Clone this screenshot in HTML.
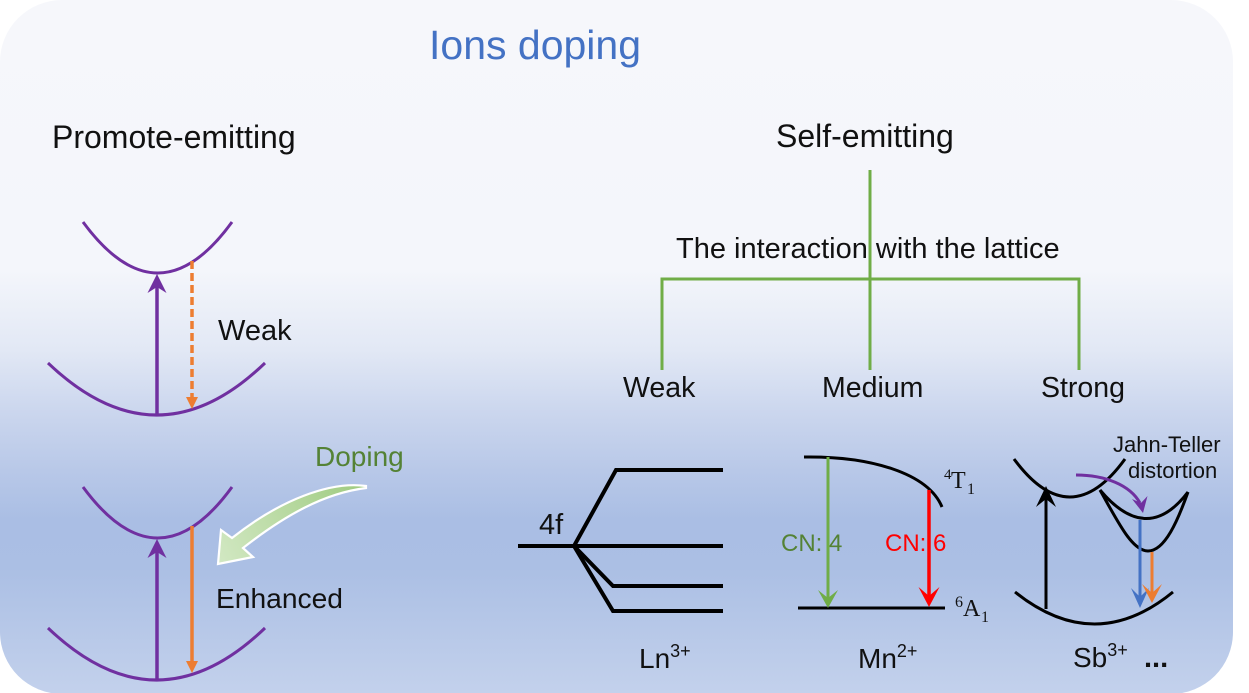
<!DOCTYPE html>
<html>
<head>
<meta charset="utf-8">
<style>
  html,body{margin:0;padding:0;background:#fff;}
  body{width:1249px;height:693px;overflow:hidden;}
  svg{display:block;}
  text{font-family:"Liberation Sans",Arial,sans-serif;}
  .serif{font-family:"Liberation Serif","Times New Roman",serif;}
</style>
</head>
<body>
<svg width="1249" height="693" viewBox="0 0 1249 693" xmlns="http://www.w3.org/2000/svg">
  <defs>
    <linearGradient id="bg" x1="0" y1="0" x2="0" y2="693" gradientUnits="userSpaceOnUse">
      <stop offset="0" stop-color="#f6f7fb"/>
      <stop offset="0.39" stop-color="#f4f6fb"/>
      <stop offset="0.505" stop-color="#e2e8f5"/>
      <stop offset="0.59" stop-color="#ccd7ee"/>
      <stop offset="0.68" stop-color="#b8c8e8"/>
      <stop offset="0.75" stop-color="#aabee4"/>
      <stop offset="0.82" stop-color="#abbfe4"/>
      <stop offset="1" stop-color="#c3d1ec"/>
    </linearGradient>
    <linearGradient id="dop" x1="366" y1="487" x2="218" y2="563" gradientUnits="userSpaceOnUse">
      <stop offset="0" stop-color="#9fcb80"/>
      <stop offset="1" stop-color="#d2e8c3"/>
    </linearGradient>
  </defs>

  <rect x="0" y="0" width="1233" height="694" rx="62" ry="62" fill="url(#bg)"/>

  <!-- Titles -->
  <text x="429" y="59" font-size="41" fill="#4472c4">Ions doping</text>
  <text x="52" y="148" font-size="32" fill="#111">Promote-emitting</text>
  <text x="776" y="147" font-size="32" fill="#111">Self-emitting</text>

  <!-- ===== Left: weak ===== -->
  <g fill="none" stroke="#7030a0" stroke-width="3">
    <path d="M83,222 Q158,324 232,222"/>
    <path d="M48,363 Q157,467 265,363"/>
    <path d="M83,487 Q158,589 232,487"/>
    <path d="M48,628 Q157,732 265,628"/>
  </g>
  <g stroke="#7030a0" stroke-width="3.5">
    <line x1="157" y1="415" x2="157" y2="285"/>
    <line x1="157" y1="680" x2="157" y2="550"/>
  </g>
  <g fill="#7030a0">
    <path d="M157,274 L166.5,293 L157,287 L147.5,293 Z"/>
    <path d="M157,539 L166.5,558 L157,552 L147.5,558 Z"/>
  </g>
  <!-- orange -->
  <line x1="192" y1="261" x2="192" y2="398" stroke="#ed7d31" stroke-width="3.5" stroke-dasharray="8,4"/>
  <path d="M186,397 L198,397 L192,409 Z" fill="#ed7d31"/>
  <line x1="192" y1="526" x2="192" y2="662" stroke="#ed7d31" stroke-width="3.5"/>
  <path d="M186,661 L198,661 L192,673 Z" fill="#ed7d31"/>

  <text x="218" y="340" font-size="29" fill="#111">Weak</text>
  <text x="216" y="608" font-size="28.2" fill="#111">Enhanced</text>
  <text x="315" y="466" font-size="28" fill="#548235">Doping</text>

  <!-- Doping arrow -->
  <path d="M366,486 C330,481 280,500 232,538 L221,530 L218,564 L253,557 L243,548 C285,515 325,493 366,488 Z"
        fill="url(#dop)" stroke="#ffffff" stroke-width="2.2" stroke-linejoin="miter"/>

  <!-- ===== Tree ===== -->
  <g stroke="#70ad47" stroke-width="3" fill="none">
    <line x1="870" y1="170" x2="870" y2="370"/>
    <polyline points="662,370 662,279 1079,279 1079,370"/>
  </g>
  <text x="676" y="258" font-size="29" fill="#111">The interaction with the lattice</text>
  <text x="623" y="397" font-size="28.5" fill="#111">Weak</text>
  <text x="822" y="397" font-size="28.5" fill="#111">Medium</text>
  <text x="1041" y="397" font-size="28.5" fill="#111">Strong</text>

  <!-- ===== Ln3+ ===== -->
  <g stroke="#000" stroke-width="4" fill="none" stroke-linejoin="miter">
    <line x1="518" y1="546" x2="723" y2="546"/>
    <polyline points="574,546 616,470 723,470"/>
    <polyline points="574,546 613,586 723,586"/>
    <polyline points="574,546 613,611 723,611"/>
  </g>
  <text x="539" y="534" font-size="29" fill="#111">4f</text>
  <text x="639" y="668" font-size="28" fill="#111">Ln<tspan font-size="18" dy="-11">3+</tspan></text>

  <!-- ===== Mn2+ ===== -->
  <g stroke="#000" stroke-width="3" fill="none">
    <path d="M804,457 C870,456 928,473 942,507"/>
    <line x1="798" y1="608" x2="945" y2="608"/>
  </g>
  <text x="781" y="551" font-size="24" fill="#548235">CN: 4</text>
  <text x="885" y="551" font-size="24" fill="#ff0000">CN: 6</text>
  <line x1="828" y1="457" x2="828" y2="598" stroke="#70ad47" stroke-width="3"/>
  <path d="M828,608 L838,590 L828,598 L818,590 Z" fill="#70ad47"/>
  <line x1="929" y1="490" x2="929" y2="596" stroke="#ff0000" stroke-width="3.5"/>
  <path d="M929,607 L939.5,587 L929,596 L918.5,587 Z" fill="#ff0000"/>
  <text class="serif" x="944" y="479" font-size="15" fill="#111">4</text>
  <text class="serif" x="951" y="488" font-size="24" fill="#111">T</text>
  <text class="serif" x="967" y="494" font-size="16" fill="#111">1</text>
  <text class="serif" x="955" y="607" font-size="16" fill="#111">6</text>
  <text class="serif" x="963" y="616" font-size="24" fill="#111">A</text>
  <text class="serif" x="981" y="622" font-size="16" fill="#111">1</text>
  <text x="858" y="668" font-size="28" fill="#111">Mn<tspan font-size="18" dy="-11">2+</tspan></text>

  <!-- ===== Sb3+ ===== -->
  <g stroke="#000" stroke-width="3" fill="none">
    <path d="M1014,459 Q1070,535 1125,459"/>
    <path d="M1015,592 Q1095,656 1173,592"/>
    <path d="M1100,490 Q1147,546 1188,492"/>
    <path d="M1100,490 C1118,522 1132,551 1148,551 C1165,551 1178,520 1188,492"/>
  </g>
  <line x1="1046" y1="609" x2="1046" y2="497" stroke="#000" stroke-width="3"/>
  <path d="M1046,486 L1056,507 L1046,499 L1036,507 Z" fill="#000"/>
  <!-- purple curved -->
  <path d="M1076,475 C1105,475 1130,485 1140,503" fill="none" stroke="#7030a0" stroke-width="3"/>
  <path d="M1143,513 L1147.5,496 L1141,503 L1132,499 Z" fill="#7030a0"/>
  <!-- blue -->
  <line x1="1140" y1="520" x2="1140" y2="598" stroke="#4472c4" stroke-width="3"/>
  <path d="M1140,608 L1149,588 L1140,597 L1131,588 Z" fill="#4472c4"/>
  <!-- orange -->
  <line x1="1152" y1="552" x2="1152" y2="593" stroke="#ed7d31" stroke-width="3"/>
  <path d="M1152,603 L1162,584 L1152,593 L1142,584 Z" fill="#ed7d31"/>

  <text x="1113" y="452" font-size="22" fill="#111">Jahn-Teller</text>
  <text x="1128" y="478" font-size="22" fill="#111">distortion</text>
  <text x="1073" y="667" font-size="28" fill="#111">Sb<tspan font-size="18" dy="-11">3+</tspan></text>
  <text x="1144" y="667" font-size="29" font-weight="bold" fill="#111">...</text>
</svg>
</body>
</html>
